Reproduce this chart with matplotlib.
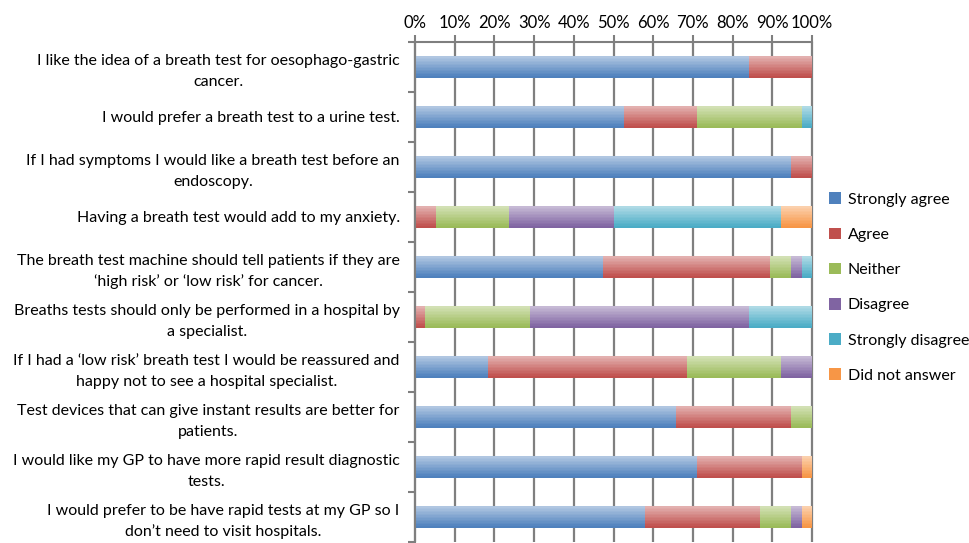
import numpy as np
import matplotlib
matplotlib.use("Agg")
import matplotlib.pyplot as plt
from matplotlib.colors import to_rgb
from matplotlib.patches import Patch

plt.rcParams['font.family'] = ['Lato', 'DejaVu Sans']

# survey statements (top to bottom)
statements = [
    "I like the idea of a breath test for oesophago-gastric\ncancer.",
    "I would prefer a breath test to a urine test.",
    "If I had symptoms I would like a breath test before an\nendoscopy.",
    "Having a breath test would add to my anxiety.",
    "The breath test machine should tell patients if they are\n\u2018high risk\u2019 or \u2018low risk\u2019 for cancer.",
    "Breaths tests should only be performed in a hospital by\na specialist.",
    "If I had a \u2018low risk\u2019 breath test I would be reassured and\nhappy not to see a hospital specialist.",
    "Test devices that can give instant results are better for\npatients.",
    "I would like my GP to have more rapid result diagnostic\ntests.",
    "I would prefer to be have rapid tests at my GP so I\ndon\u2019t need to visit hospitals.",
]

responses = ["Strongly agree", "Agree", "Neither", "Disagree",
             "Strongly disagree", "Did not answer"]

# number of respondents per answer (38 respondents)
strongly_agree    = [32, 20, 36, 0, 18, 0, 7, 25, 27, 22]
agree             = [6, 7, 2, 2, 16, 1, 19, 11, 10, 11]
neither           = [0, 10, 0, 7, 2, 10, 9, 2, 0, 3]
disagree          = [0, 0, 0, 10, 1, 21, 3, 0, 0, 1]
strongly_disagree = [0, 1, 0, 16, 1, 6, 0, 0, 0, 0]
did_not_answer    = [0, 0, 0, 3, 0, 0, 0, 0, 1, 1]

colors = ["#4F81BD", "#C0504D", "#9BBB59", "#8064A2", "#4BACC6", "#F79646"]

counts = np.array([strongly_agree, agree, neither, disagree,
                   strongly_disagree, did_not_answer], dtype=float)
pct = counts / counts.sum(axis=0) * 100

fig = plt.figure(figsize=(9.69, 5.43), dpi=100)
ax = fig.add_axes([415 / 969, 1 / 543, 397 / 969, 500 / 543])
ax.set_xlim(0, 100)
ax.set_ylim(len(statements) - 0.5, -0.5)

xt = np.arange(0, 101, 10)
# vertical gridlines, drawn first
for v in xt:
    ax.plot([v, v], [-0.5, len(statements) - 0.5], color="#7f7f7f",
            linewidth=1.6, solid_capstyle="butt", zorder=1.5, clip_on=False)

y = np.arange(len(statements))
h = 0.42
n_slices = 14
left = np.zeros(len(statements))

# each bar is drawn as thin horizontal slices: light on top, darker below
for vals, col in zip(pct, colors):
    base = np.array(to_rgb(col))
    light = base + (1 - base) * 0.55
    for k in range(n_slices):
        t = k / (n_slices - 1)
        shade = light * (1 - t) + base * t
        off = -h / 2 + (k + 0.5) * h / n_slices
        ax.barh(y + off, vals, left=left, height=h / n_slices * 1.05,
                color=shade, edgecolor="none", zorder=2)
    left += vals

ax.set_xlim(0, 100)
ax.set_ylim(len(statements) - 0.5, -0.5)

ax.xaxis.tick_top()
ax.set_xticks(xt)
ax.set_xticklabels([f"{v}%" for v in xt], fontsize=12)
ax.tick_params(axis="x", which="major", top=True, bottom=False,
               direction="out", length=5, color="#7f7f7f", width=1.5, pad=3)

ax.set_yticks(np.arange(-0.5, len(statements), 1))
ax.set_yticklabels([])
ax.set_yticks(y, minor=True)
ax.set_yticklabels(statements, minor=True, fontsize=11.5)
ax.tick_params(axis="y", which="major", length=5, color="#7f7f7f", width=1.5)
ax.tick_params(axis="y", which="minor", length=0, pad=11)
for lbl in ax.get_yticklabels(minor=True):
    lbl.set_multialignment("center")
    lbl.set_linespacing(1.55)

for s in ["right", "bottom"]:
    ax.spines[s].set_visible(False)
for s in ["left", "top"]:
    ax.spines[s].set_color("#7f7f7f")
    ax.spines[s].set_linewidth(1.5)

handles = [Patch(facecolor=c, edgecolor="none") for c in colors]
fig.legend(handles, responses, loc="upper left",
           bbox_to_anchor=(823 / 969, 1 - 186 / 543), frameon=False,
           fontsize=11.5, handlelength=0.75, handleheight=0.75,
           handletextpad=0.4, labelspacing=1.3, borderaxespad=0)

fig.savefig("out.png", dpi=100)
